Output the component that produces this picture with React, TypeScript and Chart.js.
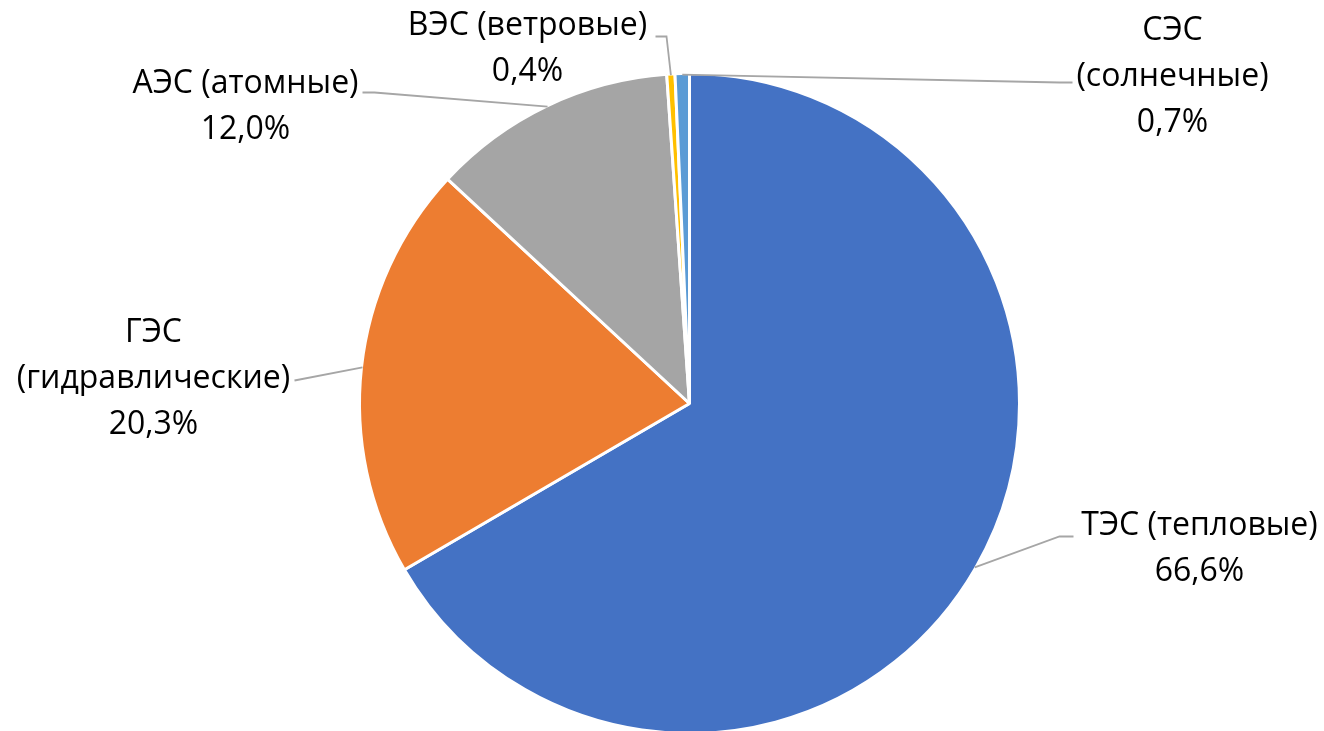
import React, { useEffect, useRef } from "react";
import { Chart, registerables } from "chart.js";

Chart.register(...registerables);

// ---- data ----
const categories = [
  "ТЭС (тепловые)",
  "ГЭС (гидравлические)",
  "АЭС (атомные)",
  "ВЭС (ветровые)",
  "СЭС (солнечные)",
];
const shares = [66.6, 20.3, 12.0, 0.4, 0.7];
const labelNameLines = [
  ["ТЭС (тепловые)"],
  ["ГЭС", "(гидравлические)"],
  ["АЭС (атомные)"],
  ["ВЭС (ветровые)"],
  ["СЭС", "(солнечные)"],
];

// ---- style ----
const sliceColors = ["#4472C4", "#ED7D31", "#A5A5A5", "#FFC000", "#5B9BD5"];
const FONT = "32px 'Open Sans', 'Noto Sans', sans-serif";
const LINE_HEIGHT = 46;
const LEADER_COLOR = "#A6A6A6";

// label placement, relative to the pie centre (px)
type LabelLayout = { cx: number; b1: number; elbow: [number, number] | null; end: [number, number] };
const labelLayout: LabelLayout[] = [
  { cx: 510, b1: 131, elbow: [370, 133], end: [384, 133] },
  { cx: -536, b1: -62, elbow: null, end: [-395, -23] },
  { cx: -444, b1: -311, elbow: [-315, -311], end: [-327, -311] },
  { cx: -162, b1: -369, elbow: [-23, -367], end: [-34, -367] },
  { cx: 483, b1: -364, elbow: [370, -321], end: [383, -321] },
];

const fmtPct = (v: number) => v.toFixed(1).replace(".", ",") + "%";

const labelPlugin = {
  id: "pieLabels",
  afterDatasetsDraw(chart: any) {
    const ctx: CanvasRenderingContext2D = chart.ctx;
    const meta = chart.getDatasetMeta(0);
    ctx.save();
    meta.data.forEach((arc: any, i: number) => {
      const { x, y, startAngle, endAngle, outerRadius } = arc.getProps(
        ["x", "y", "startAngle", "endAngle", "outerRadius"],
        true
      );
      const mid = (startAngle + endAngle) / 2;
      const px = x + Math.cos(mid) * (outerRadius - 1);
      const py = y + Math.sin(mid) * (outerRadius - 1);
      const L = labelLayout[i];
      // leader line
      ctx.strokeStyle = LEADER_COLOR;
      ctx.lineWidth = 1.8;
      ctx.beginPath();
      ctx.moveTo(px, py);
      if (L.elbow) ctx.lineTo(x + L.elbow[0], y + L.elbow[1]);
      ctx.lineTo(x + L.end[0], y + L.end[1]);
      ctx.stroke();
      // text
      const lines = [...labelNameLines[i], fmtPct(shares[i])];
      ctx.fillStyle = "#000000";
      ctx.font = FONT;
      ctx.textAlign = "center";
      ctx.textBaseline = "alphabetic";
      lines.forEach((t, k) => {
        ctx.fillText(t, x + L.cx, y + L.b1 + k * LINE_HEIGHT);
      });
    });
    ctx.restore();
  },
};

export default function App() {
  const ref = useRef<HTMLCanvasElement | null>(null);
  useEffect(() => {
    if (!ref.current) return;
    const chart = new Chart(ref.current, {
      type: "pie",
      data: {
        labels: categories,
        datasets: [
          {
            data: shares,
            backgroundColor: sliceColors,
            borderColor: "#FFFFFF",
            borderWidth: 3,
          },
        ],
      },
      options: {
        responsive: false,
        animation: false,
        layout: { padding: { left: 358, right: 303, top: 72, bottom: 25 } },
        plugins: {
          legend: { display: false },
          tooltip: { enabled: false },
        },
      },
      plugins: [labelPlugin],
    });
    return () => chart.destroy();
  }, []);
  return (
    <div
      style={{
        position: "fixed",
        left: 0,
        top: 0,
        width: 1324,
        height: 731,
        overflow: "hidden",
        background: "#FFFFFF",
      }}
    >
      <canvas ref={ref} width={1324} height={760} style={{ display: "block" }} />
    </div>
  );
}
